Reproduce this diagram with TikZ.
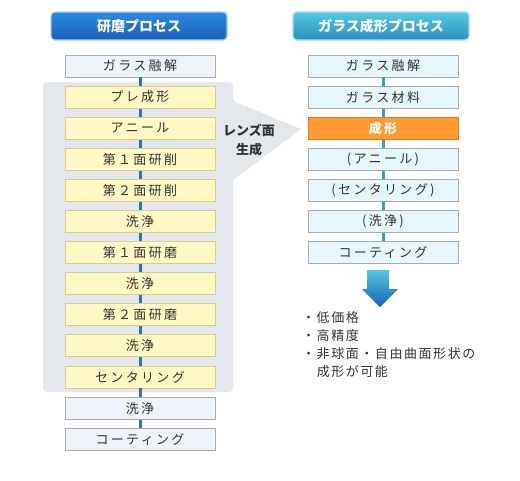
\documentclass[tikz,border=0pt]{standalone}
\usepackage{fontspec}
\setmainfont{Noto Sans CJK JP}
\newfontfamily\boxfont[LetterSpace=18]{Noto Sans CJK JP}
\newfontfamily\notefont[LetterSpace=12]{Noto Sans CJK JP}
\usepackage{tikz}
\usetikzlibrary{positioning}
\definecolor{ink}{HTML}{333333}
\definecolor{polishblue}{HTML}{2F6FBF}
\definecolor{moldblue}{HTML}{3A9AC8}
\definecolor{poltop}{HTML}{2C8AE0}
\definecolor{polbot}{HTML}{1A5EB6}
\definecolor{poledge}{HTML}{A4CCF2}
\definecolor{moltop}{HTML}{55C8E2}
\definecolor{molbot}{HTML}{2C8EBF}
\definecolor{moledge}{HTML}{A8DCEC}
\definecolor{lanefill}{HTML}{E4E8EC}
\definecolor{plainfill}{HTML}{EEF3FA}
\definecolor{cyanfill}{HTML}{E6F6FC}
\definecolor{yelfill}{HTML}{FFF8C2}
\definecolor{yelrim}{HTML}{D6CE8A}
\definecolor{greyrim}{HTML}{AAAAAA}
\definecolor{orangefill}{HTML}{FF9A35}
\definecolor{orangerim}{HTML}{E47A12}

\begin{document}
\begin{tikzpicture}[x=1pt, y=-1pt,
    node distance=8.2pt,
    header/.style={rectangle, rounded corners=4pt, line width=1.2pt, minimum width=176pt, minimum height=28pt, text=white, font=\fontsize{14}{16}\selectfont\bfseries},
    stepbox/.style={rectangle, line width=0.9pt, draw=greyrim, minimum width=150pt, minimum height=22pt, inner sep=0pt, text=ink, font=\boxfont\fontsize{13}{15}\selectfont},
    plain/.style={stepbox, fill=plainfill},
    grind/.style={stepbox, fill=yelfill, draw=yelrim},
    mold/.style={stepbox, fill=cyanfill},
    hot/.style={stepbox, fill=orangefill, draw=orangerim, text=white, font=\boxfont\fontsize{13}{15}\selectfont\bfseries},
    link/.style={line width=3pt, color=polishblue},
    molink/.style={line width=3pt, color=moldblue},
  ]
  \useasboundingbox (0,0) rectangle (520,480);

  % lens surface zone
  \fill[lanefill, rounded corners=4pt] (43,82) -- (233,82) -- (233,101) [sharp corners] -- (301,129) -- (233,180) [rounded corners=4pt] -- (233,392) -- (43,392) -- cycle;
  \node[font=\fontsize{13}{19}\selectfont\bfseries, text=ink, align=center] (zone) at (249,140) {レンズ面\\生成};

  % polishing process
  \node[header, top color=poltop, bottom color=polbot, draw=poledge] (polhead) at (139,26) {研磨プロセス};
  \node[plain] (p1) at (140,66) {ガラス融解};
  \node[grind, below=of p1] (p2) {プレ成形};
  \node[grind, below=of p2] (p3) {アニール};
  \node[grind, below=of p3] (p4) {第１面研削};
  \node[grind, below=of p4] (p5) {第２面研削};
  \node[grind, below=of p5] (p6) {洗浄};
  \node[grind, below=of p6] (p7) {第１面研磨};
  \node[grind, below=of p7] (p8) {洗浄};
  \node[grind, below=of p8] (p9) {第２面研磨};
  \node[grind, below=of p9] (p10) {洗浄};
  \node[grind, below=of p10] (p11) {センタリング};
  \node[plain, below=of p11] (p12) {洗浄};
  \node[plain, below=of p12] (p13) {コーティング};

  % glass molding process
  \node[header, top color=moltop, bottom color=molbot, draw=moledge] (molhead) at (381,26) {ガラス成形プロセス};
  \node[mold] (m1) at (383,66) {ガラス融解};
  \node[mold, below=of m1] (m2) {ガラス材料};
  \node[hot, below=of m2] (m3) {成形};
  \node[mold, below=of m3] (m4) {(アニール)};
  \node[mold, below=of m4] (m5) {(センタリング)};
  \node[mold, below=of m5] (m6) {(洗浄)};
  \node[mold, below=of m6] (m7) {コーティング};

  \foreach \a/\b in {p1/p2, p2/p3, p3/p4, p4/p5, p5/p6, p6/p7, p7/p8, p8/p9, p9/p10, p10/p11, p11/p12, p12/p13}
    \draw[link] (\a.south) -- (\b.north);
  \foreach \a/\b in {m1/m2, m2/m3, m3/m4, m4/m5, m5/m6, m6/m7}
    \draw[molink] (\a.south) -- (\b.north);

  % result arrow
  \shade[top color=moltop, bottom color=polbot] (367,270) -- (389,270) -- (389,289) -- (398,289) -- (380,307) -- (362,289) -- (367,289) -- cycle;
  \node[anchor=north west, text=ink, align=left, inner sep=0pt, font=\notefont\fontsize{13}{18}\selectfont] (merits) at (302,311) {・低価格\\・高精度\\・非球面・自由曲面形状の\\\hspace*{1.12em}成形が可能};
\end{tikzpicture}
\end{document}
